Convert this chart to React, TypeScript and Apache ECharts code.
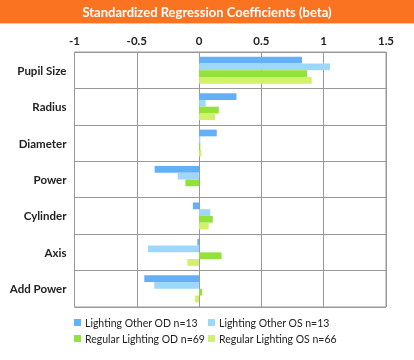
import React, { useEffect, useRef } from "react";
import * as echarts from "echarts";

const categories = ["Pupil Size", "Radius", "Diameter", "Power", "Cylinder", "Axis", "Add Power"];
const seriesNames = [
  "Lighting Other OD n=13",
  "Lighting Other OS n=13",
  "Regular Lighting OD n=69",
  "Regular Lighting OS n=66",
];
const lightingOtherOD = [0.826, 0.3, 0.142, -0.357, -0.05, -0.014, -0.44];
const lightingOtherOS = [1.05, 0.053, 0.01, -0.172, 0.09, -0.41, -0.36];
const regularOD = [0.866, 0.158, 0.01, -0.11, 0.11, 0.18, 0.024];
const regularOS = [0.904, 0.129, 0.018, 0, 0.077, -0.094, -0.032];
const colors = ["#64B0F8", "#9FD7FB", "#93E23A", "#D1F168"];
const titleText = "Standardized Regression Coefficients (beta)";

export default function App() {
  const ref = useRef<HTMLDivElement>(null);
  useEffect(() => {
    if (!ref.current) return;
    const chart = echarts.init(ref.current, null, { renderer: "svg" });
    const values = [lightingOtherOD, lightingOtherOS, regularOD, regularOS];
    const legendPos = [
      { left: 70, top: 317 },
      { left: 204, top: 317 },
      { left: 70, top: 333 },
      { left: 204, top: 333 },
    ];
    chart.setOption({
      animation: false,
      textStyle: { fontFamily: "Lato" },
      graphic: [
        {
          type: "rect",
          shape: { x: 0, y: 0, width: 414, height: 23 },
          style: { fill: "#FA7320" },
          z: 0,
        },
        {
          type: "rect",
          shape: { x: 0, y: 23, width: 414, height: 1 },
          style: { fill: "#FCC4A0" },
          z: 0,
        },
        {
          type: "text",
          x: 207,
          y: 11.5,
          style: {
            text: titleText,
            fill: "#ffffff",
            font: "bold 13px Lato",
            textAlign: "center",
            textVerticalAlign: "middle",
          },
          z: 10,
        },
      ],
      legend: seriesNames.map((n, i) => ({
        data: [n],
        left: legendPos[i].left,
        top: legendPos[i].top,
        itemWidth: 7,
        itemHeight: 7,
        itemGap: 4,
        padding: [0, 4, 0, 4],
        icon: "rect",
        textStyle: { fontSize: 10.5, color: "#222", fontFamily: "Lato", padding: [0, 0, 0, -1] },
      })),
      grid: {
        left: 74.5,
        right: 28,
        top: 52,
        bottom: 53,
        show: true,
        borderColor: "#999",
        borderWidth: 1,
        containLabel: false,
      },
      xAxis: {
        type: "value",
        position: "top",
        min: -1,
        max: 1.5,
        interval: 0.5,
        axisLine: { show: false },
        axisTick: { show: false },
        axisLabel: { color: "#222", fontWeight: "bold", fontSize: 11.5, margin: 6, fontFamily: "Lato" },
        splitLine: { show: true, lineStyle: { color: "#999", width: 1 } },
      },
      yAxis: {
        type: "category",
        data: categories,
        inverse: true,
        axisLine: { show: false },
        axisTick: { show: false },
        axisLabel: { color: "#222", fontWeight: "bold", fontSize: 11.5, margin: 8, fontFamily: "Lato" },
        splitLine: { show: true, lineStyle: { color: "#999", width: 1 } },
      },
      series: seriesNames.map((n, i) => ({
        name: n,
        type: "bar",
        data: values[i],
        barGap: "0%",
        barCategoryGap: "26%",
        itemStyle: { color: colors[i] },
      })),
    });
    return () => chart.dispose();
  }, []);
  return (
    <div
      ref={ref}
      style={{ position: "fixed", left: 0, top: 0, width: 414, height: 360 }}
    />
  );
}
